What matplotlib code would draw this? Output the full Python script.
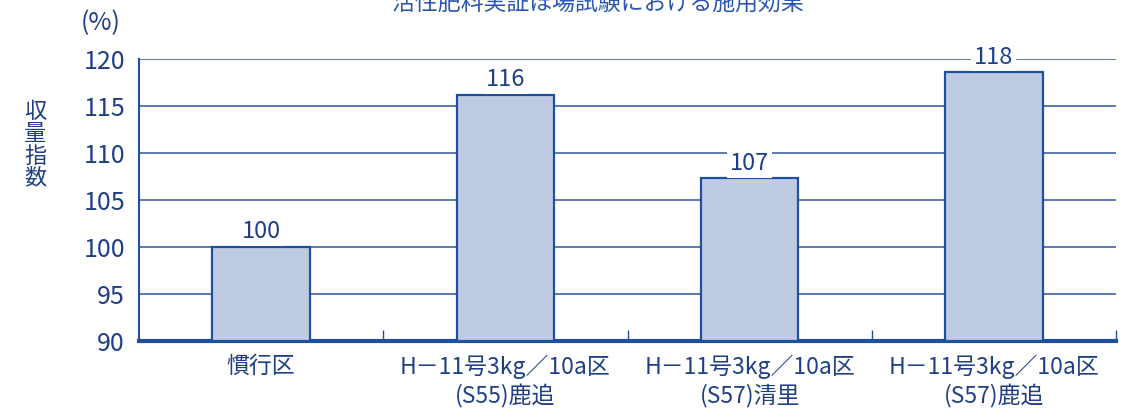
import matplotlib
matplotlib.use("Agg")
import matplotlib.pyplot as plt

plt.rcParams['font.family'] = ['Noto Sans CJK JP', 'DejaVu Sans']

categories = ["慣行区",
              "H－11号3kg／10a区\n(S55)鹿追",
              "H－11号3kg／10a区\n(S57)清里",
              "H－11号3kg／10a区\n(S57)鹿追"]
values = [100, 116.2, 107.3, 118.6]
value_labels = ["100", "116", "107", "118"]
yticks = [90, 95, 100, 105, 110, 115, 120]
title = "活性肥料実証ほ場試験における施用効果"

TXT = "#1f3f85"
EDGE = "#1f4f9f"
FILL = "#bfcbe2"
GRID = "#4063a0"

fig = plt.figure(figsize=(11.33, 4.17), dpi=100)
ax = fig.add_axes([139/1133, 1-341/417, (1116-139)/1133, (341-59)/417])

x = list(range(len(categories)))
ax.bar(x, [v - 90 for v in values], bottom=90, width=0.4, color=FILL,
       edgecolor=EDGE, linewidth=1.6, zorder=3)

ax.set_xlim(-0.5, 3.5)
ax.set_ylim(90, 120)
ax.set_yticks(yticks)
ax.set_yticklabels([str(t) for t in yticks], fontsize=18, color=TXT)
ax.tick_params(axis='y', length=0, pad=10)
ax.grid(axis='y', color=GRID, linewidth=1.2, zorder=0)
ax.set_axisbelow(True)

ax.set_xticks(x)
ax.set_xticklabels(categories, fontsize=16.5, color=TXT, linespacing=1.25)
ax.tick_params(axis='x', which='major', length=0, pad=10)
ax.set_xticks([0.5, 1.5, 2.5, 3.5], minor=True)
ax.tick_params(axis='x', which='minor', direction='in', length=8, width=1, color=EDGE)

for s in ['top', 'right']:
    ax.spines[s].set_visible(False)
ax.spines['left'].set_color(EDGE)
ax.spines['left'].set_linewidth(1.5)
ax.spines['bottom'].set_color(EDGE)
ax.spines['bottom'].set_linewidth(3)

for xi, v, lab in zip(x, values, value_labels):
    ax.text(xi, v + 1.6, lab, ha='center', va='center', fontsize=17, color=TXT,
            bbox=dict(facecolor='white', edgecolor='none', pad=2), zorder=4)

fig.text(598/1133, 1 - 9.5/417, title, ha='center', va='baseline', fontsize=16.5, color="#2a55b0")
fig.text(101/1133, 1 - 23/417, "(%)", ha='center', va='center', fontsize=18, color=TXT)
fig.text(35/1133, 1 - 145/417, "収\n量\n指\n数", ha='center', va='center', fontsize=16,
         color=TXT, linespacing=0.95)

fig.savefig("out.png", dpi=100)
